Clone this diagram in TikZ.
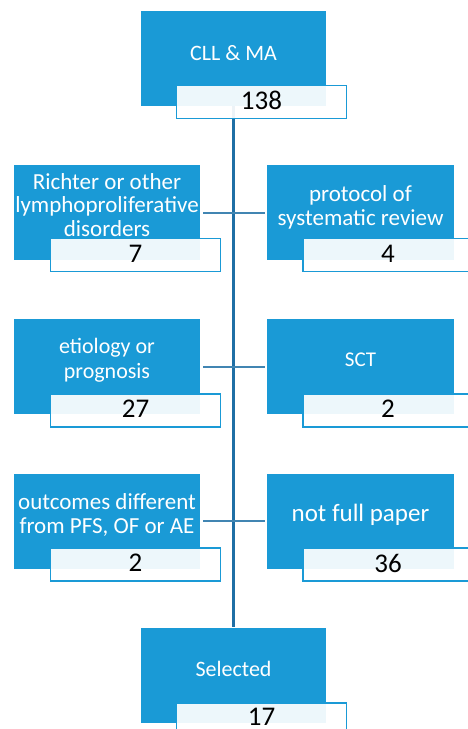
\documentclass[tikz,border=0pt]{standalone}
\usepackage{fontspec}
\setmainfont{Carlito}
\definecolor{boxblue}{HTML}{1A9AD6}
\definecolor{lineblue}{HTML}{1F6FA5}
\begin{document}
\begin{tikzpicture}[x=1pt,y=-1pt,
  bluebox/.style={fill=boxblue, draw=none, inner sep=0, minimum width=186pt, minimum height=95pt},
  numbox/.style={fill=white, fill opacity=0.92, text opacity=1, draw=boxblue, line width=1.4pt, inner sep=0,
     minimum width=170pt, minimum height=33pt, text=black},
  numtxt/.style={inner sep=0, text=black, font=\fontsize{27}{30}\selectfont},
  lbl/.style={text=white, align=center, inner sep=0, font=\fontsize{23}{24}\selectfont},
  vline/.style={draw=lineblue, line width=2.6pt},
  hline/.style={draw=lineblue!85!white, line width=2pt}]
\useasboundingbox (0,0) rectangle (467,729);
% blue boxes
\node[bluebox, minimum width=185pt] (top) at (233.5,58.5) {};
\node[bluebox] (l1) at (107,212.5) {};
\node[bluebox, minimum width=187pt] (r1) at (360.5,212.5) {};
\node[bluebox] (l2) at (107,366.5) {};
\node[bluebox, minimum width=187pt] (r2) at (360.5,366.5) {};
\node[bluebox] (l3) at (107,521) {};
\node[bluebox, minimum width=187pt] (r3) at (360.5,521) {};
\node[bluebox, minimum width=185pt] (sel) at (233.5,675) {};
% connectors
\draw[vline] (top.south) -- (sel.north);
\draw[hline, shorten <=3pt, shorten >=2pt] (l1.east) -- (r1.west);
\draw[hline, shorten <=3pt, shorten >=2pt] (l2.east) -- (r2.west);
\draw[hline, shorten <=3pt, shorten >=2pt] (l3.east) -- (r3.west);
% labels
\node[lbl, font=\fontsize{22}{26}\selectfont] (ttop) at (233.5,53) {CLL \& MA};
\node[lbl, font=\fontsize{23}{23.5}\selectfont] (tl1) at (107,205) {Richter or other\\lymphoproliferative\\disorders};
\node[lbl] (tr1) at (360.5,207) {protocol of\\systematic review};
\node[lbl, font=\fontsize{22}{25}\selectfont] (tl2) at (107,360) {etiology or\\prognosis};
\node[lbl, font=\fontsize{21}{24}\selectfont] (tr2) at (360.5,360) {SCT};
\node[lbl] (tl3) at (107,515) {outcomes different\\from PFS, OF or AE};
\node[lbl, font=\fontsize{25}{30}\selectfont] (tr3) at (360.5,515) {not full paper};
\node[lbl, font=\fontsize{22}{26}\selectfont] (tsel) at (233.5,669) {Selected};
% number boxes
\node[numbox] (ntop) at (261.5,102) {};
\node[numbox] (nl1) at (135.5,255) {};
\node[numbox] (nr1) at (388,255) {};
\node[numbox] (nl2) at (135.5,410.5) {};
\node[numbox] (nr2) at (388,410.5) {};
\node[numbox] (nl3) at (135.5,564.5) {};
\node[numbox] (nr3) at (388,564.5) {};
\node[numbox] (nsel) at (261.5,719.5) {};
% numbers
\node[numtxt] (xtop) at ([yshift=1.5pt]ntop.center) {138};
\node[numtxt] (xl1) at ([yshift=1.5pt]nl1.center) {7};
\node[numtxt] (xr1) at ([yshift=1.5pt]nr1.center) {4};
\node[numtxt] (xl2) at ([yshift=1.5pt]nl2.center) {27};
\node[numtxt] (xr2) at ([yshift=1.5pt]nr2.center) {2};
\node[numtxt] (xl3) at ([yshift=1.5pt]nl3.center) {2};
\node[numtxt] (xr3) at ([yshift=1.5pt]nr3.center) {36};
\node[numtxt] (xsel) at ([yshift=3pt]nsel.center) {17};
\end{tikzpicture}
\end{document}
